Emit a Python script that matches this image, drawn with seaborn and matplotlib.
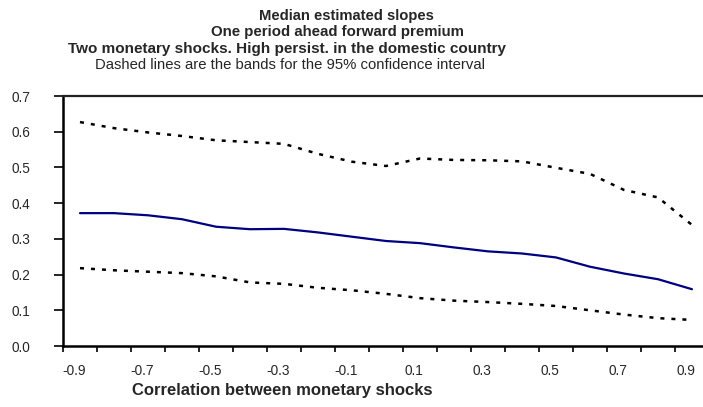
import numpy as np
import pandas as pd
import matplotlib
matplotlib.use("Agg")
import matplotlib.pyplot as plt
import matplotlib.transforms as mtransforms
import seaborn as sns

# correlation between the two monetary shocks (categories)
correlation = [-0.9, -0.8, -0.7, -0.6, -0.5, -0.4, -0.3, -0.2, -0.1, 0.0,
               0.1, 0.2, 0.3, 0.4, 0.5, 0.6, 0.7, 0.8, 0.9]
median_slope = [0.372, 0.372, 0.366, 0.355, 0.334, 0.327, 0.328, 0.318, 0.306, 0.294,
                0.288, 0.276, 0.265, 0.259, 0.248, 0.222, 0.203, 0.187, 0.159]
upper_band = [0.627, 0.610, 0.598, 0.588, 0.576, 0.571, 0.566, 0.538, 0.516, 0.504,
              0.525, 0.521, 0.520, 0.517, 0.499, 0.482, 0.437, 0.416, 0.339]
lower_band = [0.218, 0.212, 0.208, 0.204, 0.195, 0.178, 0.174, 0.163, 0.156, 0.146,
              0.134, 0.127, 0.123, 0.118, 0.112, 0.100, 0.088, 0.078, 0.073]
tick_labels = ["-0.9", "-0.7", "-0.5", "-0.3", "-0.1", "0.1", "0.3", "0.5", "0.7", "0.9"]
y_labels = ["0.0", "0.1", "0.2", "0.3", "0.4", "0.5", "0.6", "0.7"]

df = pd.DataFrame({"corr": correlation, "median": median_slope,
                   "upper": upper_band, "lower": lower_band})

sns.set_style("white")
plt.rcParams["font.family"] = ["Liberation Sans", "DejaVu Sans"]

W, H = 703, 407
fig = plt.figure(figsize=(W / 100, H / 100), dpi=100)
ax = fig.add_axes([63 / W, (H - 346) / H, (709 - 63) / W, (346 - 96) / H])

sns.lineplot(data=df, x="corr", y="median", ax=ax, color="#000080", linewidth=1.6)
for col in ["upper", "lower"]:
    sns.lineplot(data=df, x="corr", y=col, ax=ax, color="black", linewidth=1.8,
                 dashes=False, linestyle=(0, (1.6, 2.8)))

ax.set_xlim(-0.95, 0.95)
ax.set_ylim(0, 0.7)

# labels every second category, tick marks between categories
ax.set_xticks([float(t) for t in tick_labels])
ax.set_xticklabels(tick_labels, fontsize=9.8)
ax.set_xticks(np.arange(-0.95, 0.951, 0.1), minor=True)
ax.tick_params(axis="x", which="major", length=0, pad=13)
ax.tick_params(axis="x", which="minor", length=4, width=1.2, direction="out",
               color="black", bottom=True)
offset = mtransforms.ScaledTranslation(-6 / 100, 0, fig.dpi_scale_trans)
for lbl in ax.get_xticklabels():
    lbl.set_transform(lbl.get_transform() + offset)

ax.set_yticks([float(t) for t in y_labels])
ax.set_yticklabels(y_labels, fontsize=9.8)
ax.tick_params(axis="y", which="major", length=6.5, width=1.2, direction="out",
               color="black", left=True, pad=17)

for side in ["left", "bottom"]:
    ax.spines[side].set_linewidth(1.8)
    ax.spines[side].set_color("black")
ax.spines["top"].set_linewidth(1.6)
ax.spines["top"].set_color("#222222")
ax.spines["right"].set_visible(False)

ax.set_xlabel("Correlation between monetary shocks", fontsize=12,
              fontweight="bold")
ax.xaxis.set_label_coords((282 - 63) / (709 - 63), -(390 - 346) / (346 - 96))
ax.xaxis.label.set_va("center")
ax.set_ylabel("")

fig.text(346 / W, 1 - 16 / H, "Median estimated slopes", ha="center", va="center",
         fontsize=10.6, fontweight="bold")
fig.text(337 / W, 1 - 32 / H, "One period ahead forward premium", ha="center", va="center",
         fontsize=10.8, fontweight="bold")
fig.text(287 / W, 1 - 49 / H, "Two monetary shocks. High persist. in the domestic country",
         ha="center", va="center", fontsize=11, fontweight="bold")
fig.text(290 / W, 1 - 65 / H, "Dashed lines are the bands for the 95% confidence interval",
         ha="center", va="center", fontsize=10.7)

fig.savefig("out.png", dpi=100)
